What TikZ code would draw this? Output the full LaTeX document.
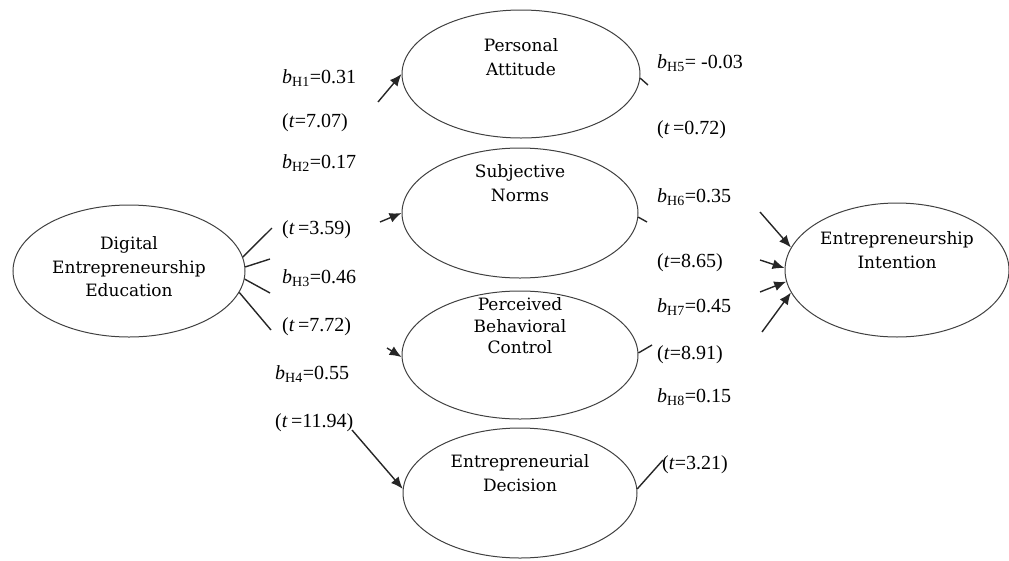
\documentclass[tikz,border=0pt]{standalone}
\usepackage{fontspec}
\setmainfont{Liberation Serif}
\newfontfamily\ellfont{DejaVu Serif}
\newfontfamily\labfont{Liberation Serif}
\usetikzlibrary{shapes.geometric,arrows.meta}
\tikzset{
  ell/.style={draw=black!75, line width=1pt, ellipse, inner sep=0pt},
  etext/.style={align=center, font=\ellfont\fontsize{17}{23.5}\selectfont, inner sep=0pt},
  lab/.style={anchor=west, font=\labfont\fontsize{20}{22}\selectfont, inner sep=0pt},
  conn/.style={draw=black!85, line width=1.4pt},
  arr/.style={conn, -{Latex[length=12pt,width=10pt]}}
}
\newcommand{\bh}[2]{\textit{b}\textsubscript{H#1}=#2}
\begin{document}
\begin{tikzpicture}[x=1pt,y=-1pt]
\useasboundingbox (0,0) rectangle (1009,560);
% ellipses
\node[ell, minimum width=232pt, minimum height=132pt] (dee) at (129,271) {};
\node[ell, minimum width=238pt, minimum height=128pt] (pa) at (521,74) {};
\node[ell, minimum width=236pt, minimum height=130pt] (sn) at (520,213) {};
\node[ell, minimum width=236pt, minimum height=128pt] (pbc) at (520,355) {};
\node[ell, minimum width=234pt, minimum height=130pt] (ed) at (520,493) {};
\node[ell, minimum width=224pt, minimum height=134pt] (ei) at (897,270) {};
% ellipse texts
\node[etext] (deet) at (129,267) {Digital\\Entrepreneurship\\Education};
\node[etext] (pat) at (521,57) {Personal\\Attitude};
\node[etext] (snt) at (520,183) {Subjective\\Norms};
\node[etext, font=\ellfont\fontsize{17}{21.5}\selectfont] (pbct) at (520,326) {Perceived\\Behavioral\\Control};
\node[etext] (edt) at (520,473) {Entrepreneurial\\Decision};
\node[etext] (eit) at (897,250) {Entrepreneurship\\Intention};
% left labels
\node[lab] (l1) at (282,78) {\bh{1}{0.31}};
\node[lab] (l2) at (282,123) {(\textit{t}=7.07)};
\node[lab] (l3) at (282,163) {\bh{2}{0.17}};
\node[lab] (l4) at (282,230) {(\textit{t}\,=3.59)};
\node[lab] (l5) at (282,278) {\bh{3}{0.46}};
\node[lab] (l6) at (282,327) {(\textit{t}\,=7.72)};
\node[lab] (l7) at (275,374) {\bh{4}{0.55}};
\node[lab] (l8) at (275,423) {(\textit{t}\,=11.94)};
% right labels
\node[lab] (r1) at (657,63) {\textit{b}\textsubscript{H5}= -0.03};
\node[lab] (r2) at (657,130) {(\textit{t}\,=0.72)};
\node[lab] (r3) at (657,197) {\bh{6}{0.35}};
\node[lab] (r4) at (657,263) {(\textit{t}=8.65)};
\node[lab] (r5) at (657,307) {\bh{7}{0.45}};
\node[lab] (r6) at (657,355) {(\textit{t}=8.91)};
\node[lab] (r7) at (657,397) {\bh{8}{0.15}};
\node[lab] (r8) at (662,465) {(\textit{t}=3.21)};
% free ends
\coordinate (d1) at (272,228);
\coordinate (d2) at (270,259);
\coordinate (d3) at (270,293);
\coordinate (d4) at (271,330);
\coordinate (a1) at (378,102);
\coordinate (a2) at (380,222);
\coordinate (a3) at (387,348);
\coordinate (a4) at (352,430);
\coordinate (p1) at (648,85);
\coordinate (p2) at (647,222);
\coordinate (p3) at (652,345);
\coordinate (p4) at (663,460);
\coordinate (e1) at (760,212);
\coordinate (e2) at (760,260);
\coordinate (e3) at (760,292);
\coordinate (e4) at (762,332);
% connectors
\draw[conn] (dee.7) -- (d1);
\draw[conn] (dee.2) -- (d2);
\draw[conn] (dee.-4) -- (d3);
\draw[conn] (dee.-11) -- (d4);
\draw[arr] (a1) -- (pa.180);
\draw[arr] (a2) -- (sn.180);
\draw[arr] (a3) -- (pbc.181);
\draw[arr] (a4) -- (ed.178);
\draw[conn] (pa.-2) -- (p1);
\draw[conn] (sn.-2) -- (p2);
\draw[conn] (pbc.1) -- (p3);
\draw[conn] (ed.2) -- (p4);
\draw[arr] (e1) -- (ei.168);
\draw[arr] (e2) -- (ei.179);
\draw[arr] (e3) -- (ei.186);
\draw[arr] (e4) -- (ei.192);
\end{tikzpicture}
\end{document}
